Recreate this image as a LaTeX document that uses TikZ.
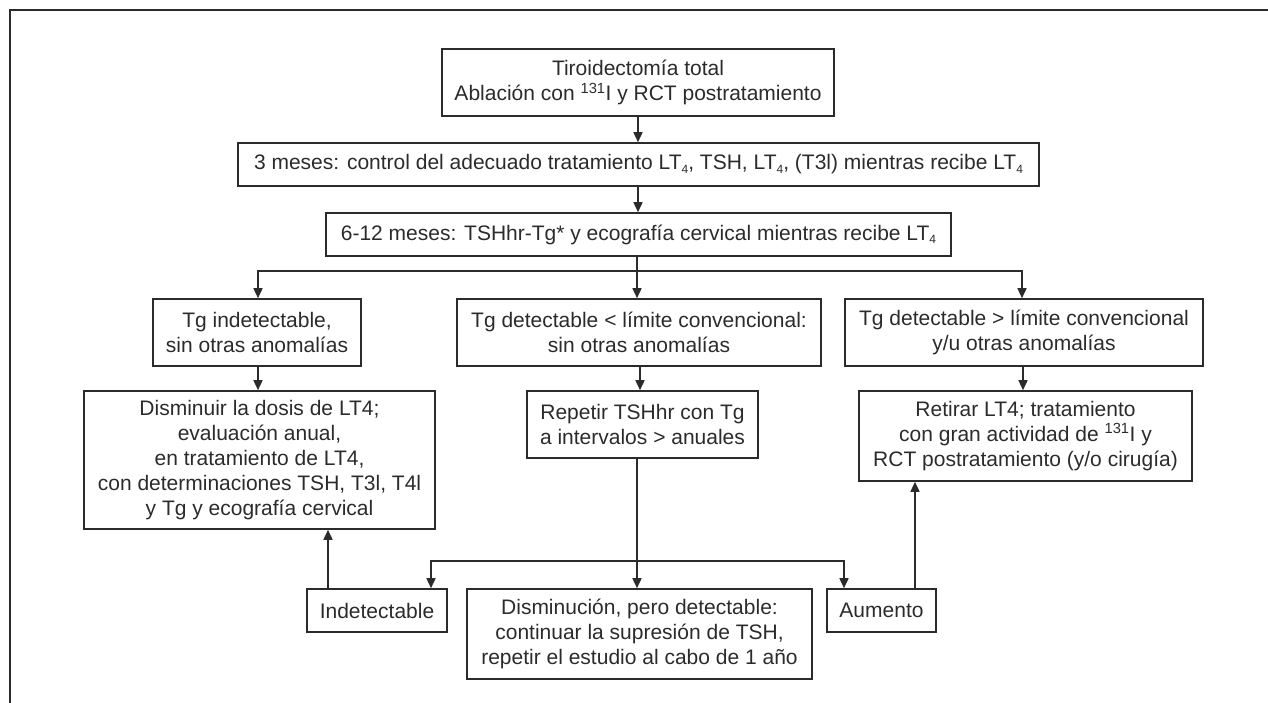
\documentclass[tikz,border=0pt]{standalone}
\usepackage{fontspec}
\setmainfont{Liberation Sans}
\usetikzlibrary{arrows.meta}
\definecolor{ink}{HTML}{2B2B2B}
\tikzset{
  box/.style={draw=ink, text=ink, line width=1.6pt, align=center, inner sep=0pt,
    font=\fontsize{21}{25}\selectfont},
  conn/.style={draw=ink, line width=1.6pt},
  arr/.style={conn, -{Triangle[length=10pt,width=9pt]}},
}
\newcommand{\lowsub}[1]{\raisebox{-0.35ex}{\fontsize{12}{12}\selectfont #1}}
\begin{document}
\begin{tikzpicture}[x=1pt,y=-1pt]
\useasboundingbox (0,0) rectangle (1268,703);
% frame (top and left rules)
\draw[conn] (1268,10) -- (10,10) -- (10,703);

\node[box, minimum width=392pt, minimum height=67pt] (top) at (638,82.5)
  {Tiroidectomía total\\Ablación con \textsuperscript{131}I y RCT postratamiento};
\node[box, minimum width=801pt, minimum height=43pt] (b2) at (638.5,164.5)
  {3 meses: control del adecuado tratamiento LT\lowsub{4}, TSH, LT\lowsub{4}, (T3l) mientras recibe LT\lowsub{4}};
\node[box, minimum width=625pt, minimum height=43pt] (b3) at (638.5,234.5)
  {6-12 meses: TSHhr-Tg* y ecografía cervical mientras recibe LT\lowsub{4}};

\node[box, minimum width=208pt, minimum height=67pt] (L1) at (257,332.5)
  {Tg indetectable,\\sin otras anomalías};
\node[box, minimum width=364pt, minimum height=67pt] (M1) at (639,332.5)
  {Tg detectable < límite convencional:\\sin otras anomalías};
\node[box, minimum width=358pt, minimum height=67pt] (R1) at (1024,332.5)
  {Tg detectable > límite convencional\\y/u otras anomalías};

\node[box, minimum width=351pt, minimum height=138pt] (L2) at (259.5,460)
  {Disminuir la dosis de LT4;\\evaluación anual,\\en tratamiento de LT4,\\con determinaciones TSH, T3l, T4l\\y Tg y ecografía cervical};
\node[box, minimum width=231pt, minimum height=67pt] (M2) at (642.5,424.5)
  {Repetir TSHhr con Tg\\a intervalos > anuales};
\node[box, minimum width=333pt, minimum height=90pt] (R2) at (1025.5,436)
  {Retirar LT4; tratamiento\\con gran actividad de \textsuperscript{131}I y\\RCT postratamiento (y/o cirugía)};

\node[box, minimum width=140pt, minimum height=43pt] (ind) at (377,610.5) {Indetectable};
\node[box, minimum width=345pt, minimum height=90pt] (dis) at (639.5,634)
  {Disminución, pero detectable:\\continuar la supresión de TSH,\\repetir el estudio al cabo de 1 año};
\node[box, minimum width=109pt, minimum height=43pt] (aum) at (881.5,610.5) {Aumento};

% connectors
\draw[arr] (top.south) -- (top.south |- b2.north);
\draw[arr] ([xshift=-0.5pt]b2.south) -- ([xshift=-0.5pt]b2.south |- b3.north);

\coordinate (s1) at (637,271);
\draw[conn] (b3.south -| s1) -- (s1);
\draw[arr] (s1) -| ([xshift=1pt]L1.north);
\draw[arr] (s1) -| ([xshift=-2pt]R1.north);
\draw[arr] (s1) -- (s1 |- M1.north);

\draw[arr] ([xshift=1pt]L1.south) -- ([xshift=1pt]L1.south |- L2.north);
\draw[arr] ([xshift=1pt]M1.south) -- ([xshift=1pt]M1.south |- M2.north);
\draw[arr] ([xshift=-1pt]R1.south) -- ([xshift=-1pt]R1.south |- R2.north);

\coordinate (s2) at (637,561);
\draw[conn] (M2.south -| s2) -- (s2);
\draw[arr] (s2) -| ([xshift=54pt]ind.north);
\draw[arr] (s2) -| ([xshift=-37.5pt]aum.north);
\draw[arr] (s2) -- (s2 |- dis.north);

\draw[arr] ([xshift=-49pt]ind.north) -- ([xshift=-49pt]ind.north |- L2.south);
\draw[arr] ([xshift=33.5pt]aum.north) -- ([xshift=33.5pt]aum.north |- R2.south);
\end{tikzpicture}
\end{document}
